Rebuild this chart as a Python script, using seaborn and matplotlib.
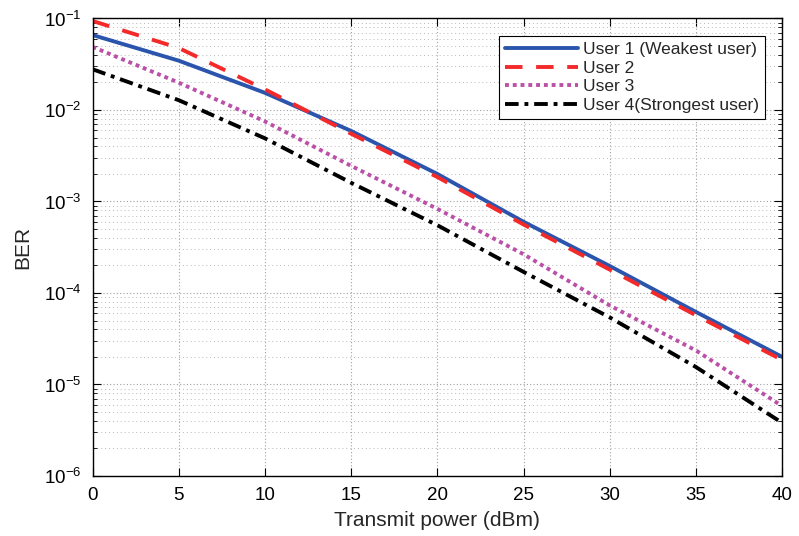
import numpy as np
import pandas as pd
import seaborn as sns
import matplotlib
matplotlib.use("Agg")
import matplotlib.pyplot as plt
from matplotlib.ticker import LogLocator, NullFormatter

# transmit power (dBm) and BER
power = [0, 5, 10, 15, 20, 25, 30, 35, 40]
user1 = [0.066, 0.0346, 0.0154, 5.9e-3, 2.0e-3, 6.0e-4, 1.97e-4, 6.2e-5, 2.0e-5]
user2 = [0.094, 0.0476, 0.0168, 5.5e-3, 1.85e-3, 5.6e-4, 1.8e-4, 5.7e-5, 1.85e-5]
user3 = [0.049, 0.0199, 7.5e-3, 2.45e-3, 8.3e-4, 2.65e-4, 7.3e-5, 2.35e-5, 5.8e-6]
user4 = [0.0279, 0.0128, 4.9e-3, 1.6e-3, 5.5e-4, 1.7e-4, 5.4e-5, 1.55e-5, 3.8e-6]

labels = ["User 1 (Weakest user)", "User 2", "User 3", "User 4(Strongest user)"]
colors = ["#2b55ad", "#f42a2a", "#bb50a8", "#000000"]
styles = ["-", (0, (4.5, 3.5)), (0, (1, 1)), (0, (3.5, 1.5, 1, 1.5))]

sns.set_style("ticks")
plt.rcParams["font.family"] = ["Liberation Sans", "DejaVu Sans"]

fig = plt.figure(figsize=(7.99, 5.36), dpi=100)
ax = fig.add_axes([0.1158, 0.112, 0.8632, 0.8535])

for y, lab, c, ls in zip([user1, user2, user3, user4], labels, colors, styles):
    df = pd.DataFrame({"power": power, "ber": y})
    sns.lineplot(data=df, x="power", y="ber", ax=ax, color=c, linewidth=2.8,
                 linestyle=ls, label=lab)

ax.set_yscale("log")
ax.set_xlim(0, 40)
ax.set_ylim(1e-6, 1e-1)
ax.set_xticks(np.arange(0, 41, 5))
ax.yaxis.set_minor_locator(LogLocator(base=10, subs=np.arange(2, 10)))
ax.yaxis.set_minor_formatter(NullFormatter())

ax.grid(True, which="major", color="#a0a0a0", linestyle=(0, (1, 2)), linewidth=0.8)
ax.grid(True, which="minor", axis="y", color="#b8b8b8", linestyle=(0, (1, 3)), linewidth=0.7)

ax.tick_params(which="both", direction="in", top=True, right=True, labelsize=13.5,
               colors="black", pad=8)
ax.tick_params(which="major", length=6)
ax.tick_params(which="minor", length=3)
for s in ax.spines.values():
    s.set_color("black")
    s.set_linewidth(1.0)

ax.set_xlabel("Transmit power (dBm)", fontsize=15, labelpad=5)
ax.set_ylabel("BER", fontsize=15, labelpad=8)

leg = ax.legend(loc="upper right", fontsize=12.5, handlelength=4.2, frameon=True,
                fancybox=False, edgecolor="black", framealpha=1,
                borderaxespad=1.0, labelspacing=0.2, borderpad=0.35, handletextpad=0.3)
leg.get_frame().set_linewidth(0.8)

fig.savefig("out.png", dpi=100)
